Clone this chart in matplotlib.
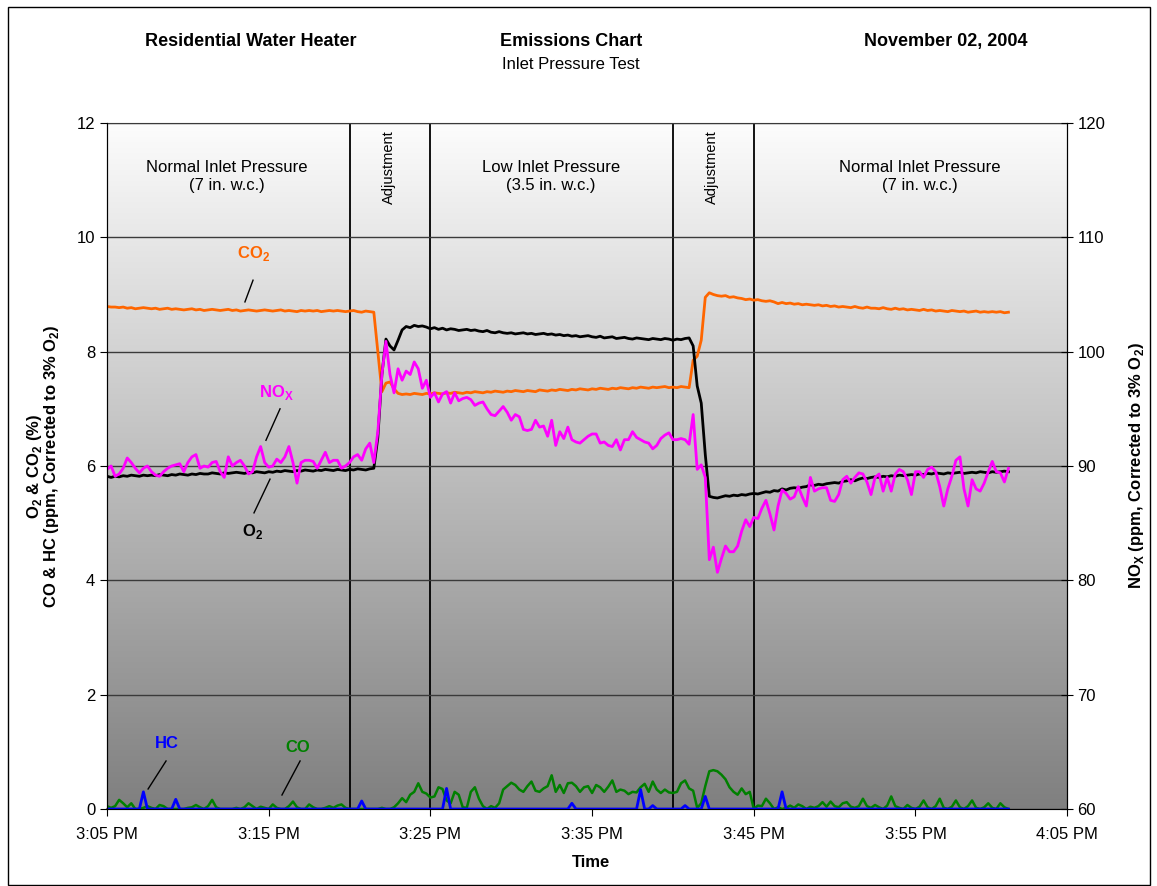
import numpy as np
import matplotlib
matplotlib.use('Agg')
import matplotlib.pyplot as plt
from matplotlib.patches import Rectangle

plt.rcParams['font.family'] = ['Liberation Sans', 'DejaVu Sans']
plt.rcParams['mathtext.fontset'] = 'custom'
plt.rcParams['mathtext.rm'] = 'Liberation Sans'
plt.rcParams['mathtext.bf'] = 'Liberation Sans:bold'

# muestras cada 15 s, minutos desde las 3:05 PM
paso_min = 0.25

o2 = [5.82, 5.80, 5.82, 5.81, 5.83, 5.82, 5.84, 5.83, 5.82, 5.84,
      5.83, 5.84, 5.83, 5.85, 5.84, 5.83, 5.85, 5.84, 5.86, 5.85,
      5.84, 5.86, 5.85, 5.87, 5.86, 5.86, 5.88, 5.87, 5.86, 5.88,
      5.87, 5.88, 5.89, 5.88, 5.87, 5.89, 5.88, 5.90, 5.89, 5.88,
      5.90, 5.89, 5.91, 5.90, 5.92, 5.91, 5.90, 5.92, 5.91, 5.93,
      5.92, 5.91, 5.93, 5.92, 5.94, 5.93, 5.92, 5.94, 5.93, 5.92,
      5.94, 5.93, 5.95, 5.94, 5.93, 5.95, 5.96, 6.50, 7.60, 8.22,
      8.10, 8.03, 8.20, 8.38, 8.44, 8.42, 8.46, 8.44, 8.45, 8.43,
      8.40, 8.42, 8.39, 8.41, 8.38, 8.40, 8.39, 8.37, 8.38, 8.39,
      8.37, 8.38, 8.36, 8.35, 8.37, 8.34, 8.33, 8.35, 8.33, 8.32,
      8.33, 8.31, 8.32, 8.33, 8.31, 8.32, 8.30, 8.31, 8.32, 8.30,
      8.31, 8.29, 8.30, 8.28, 8.29, 8.27, 8.28, 8.26, 8.27, 8.28,
      8.26, 8.25, 8.27, 8.24, 8.25, 8.26, 8.23, 8.24, 8.25, 8.23,
      8.22, 8.24, 8.23, 8.22, 8.21, 8.23, 8.22, 8.21, 8.23, 8.22,
      8.20, 8.22, 8.21, 8.23, 8.24, 8.10, 7.40, 7.10, 6.20, 5.47,
      5.45, 5.44, 5.46, 5.48, 5.47, 5.49, 5.48, 5.50, 5.49, 5.51,
      5.52, 5.51, 5.53, 5.55, 5.54, 5.57, 5.56, 5.60, 5.58, 5.61,
      5.62, 5.61, 5.63, 5.64, 5.67, 5.66, 5.68, 5.67, 5.69, 5.70,
      5.71, 5.70, 5.73, 5.74, 5.76, 5.74, 5.77, 5.79, 5.78, 5.80,
      5.81, 5.80, 5.82, 5.81, 5.83, 5.82, 5.84, 5.83, 5.84, 5.85,
      5.84, 5.86, 5.85, 5.87, 5.86, 5.88, 5.87, 5.86, 5.88, 5.87,
      5.88, 5.89, 5.87, 5.88, 5.89, 5.88, 5.90, 5.89, 5.88, 5.90,
      5.89, 5.90, 5.91, 5.90]

co2 = [8.79, 8.78, 8.78, 8.77, 8.78, 8.76, 8.77, 8.75, 8.76, 8.77,
       8.76, 8.75, 8.76, 8.74, 8.75, 8.76, 8.74, 8.75, 8.74, 8.73,
       8.74, 8.75, 8.73, 8.74, 8.72, 8.73, 8.74, 8.73, 8.72, 8.73,
       8.74, 8.72, 8.73, 8.71, 8.72, 8.73, 8.72, 8.71, 8.72, 8.73,
       8.72, 8.71, 8.72, 8.73, 8.71, 8.72, 8.71, 8.70, 8.72, 8.71,
       8.72, 8.71, 8.72, 8.70, 8.71, 8.72, 8.71, 8.72, 8.71, 8.70,
       8.71, 8.72, 8.70, 8.69, 8.71, 8.70, 8.69, 8.00, 7.30, 7.45,
       7.47, 7.35, 7.27, 7.25, 7.26, 7.25, 7.27, 7.26, 7.25, 7.27,
       7.26, 7.28, 7.27, 7.26, 7.28, 7.27, 7.29, 7.28, 7.27, 7.29,
       7.28, 7.30, 7.29, 7.28, 7.30, 7.29, 7.31, 7.30, 7.29, 7.31,
       7.30, 7.32, 7.31, 7.30, 7.32, 7.31, 7.30, 7.33, 7.32, 7.31,
       7.33, 7.32, 7.34, 7.33, 7.32, 7.34, 7.33, 7.35, 7.34, 7.33,
       7.35, 7.34, 7.36, 7.35, 7.34, 7.36, 7.35, 7.37, 7.36, 7.35,
       7.37, 7.36, 7.38, 7.37, 7.36, 7.38, 7.37, 7.38, 7.39, 7.37,
       7.38, 7.37, 7.39, 7.38, 7.37, 7.85, 7.92, 8.20, 8.95, 9.03,
       9.00, 8.98, 8.97, 8.98, 8.95, 8.96, 8.94, 8.93, 8.91, 8.92,
       8.90, 8.91, 8.89, 8.88, 8.89, 8.87, 8.84, 8.86, 8.84, 8.85,
       8.83, 8.84, 8.82, 8.83, 8.82, 8.81, 8.82, 8.80, 8.81, 8.79,
       8.80, 8.78, 8.79, 8.78, 8.77, 8.79, 8.77, 8.76, 8.78, 8.76,
       8.76, 8.75, 8.77, 8.75, 8.74, 8.76, 8.74, 8.75, 8.73, 8.74,
       8.73, 8.72, 8.74, 8.72, 8.73, 8.71, 8.72, 8.71, 8.70, 8.72,
       8.71, 8.70, 8.71, 8.69, 8.70, 8.71, 8.69, 8.70, 8.69, 8.70,
       8.69, 8.70, 8.68, 8.69]

nox = [89.7, 90.0, 89.1, 89.3, 89.8, 90.7, 90.3, 89.8, 89.4, 89.8,
       90.0, 89.5, 89.2, 89.1, 89.5, 89.8, 90.0, 90.1, 90.2, 89.5,
       90.3, 90.8, 91.0, 89.8, 90.0, 89.9, 90.3, 90.4, 89.5, 89.0,
       90.8, 90.0, 90.3, 90.5, 90.0, 89.3, 89.5, 90.8, 91.7, 90.3,
       89.9, 90.0, 90.6, 90.3, 90.8, 91.7, 90.3, 88.5, 90.3, 90.5,
       90.5, 90.4, 89.8, 90.5, 91.2, 90.3, 90.5, 90.5, 89.8, 90.0,
       90.3, 90.8, 91.0, 90.5, 91.5, 92.0, 90.3, 93.0, 98.0, 100.9,
       98.0, 96.4, 98.5, 97.5, 98.3, 98.0, 99.1, 98.5, 96.8, 97.5,
       96.0, 96.4, 95.6, 96.3, 96.5, 95.5, 96.4, 95.7, 95.9, 96.0,
       95.8, 95.3, 95.5, 95.6, 95.0, 94.5, 94.4, 94.8, 95.2, 94.7,
       94.0, 94.5, 94.3, 93.2, 93.1, 93.2, 94.0, 93.4, 93.5, 92.6,
       94.0, 91.8, 93.0, 92.4, 93.4, 92.3, 92.1, 92.0, 92.3, 92.6,
       92.8, 92.8, 92.0, 92.1, 91.8, 91.7, 92.3, 91.4, 92.3, 92.3,
       93.0, 92.5, 92.3, 92.1, 92.0, 91.5, 91.8, 92.4, 92.7, 92.9,
       92.3, 92.3, 92.4, 92.3, 91.9, 94.5, 89.7, 90.1, 89.0, 81.8,
       82.9, 80.7, 81.9, 83.0, 82.5, 82.5, 83.0, 84.3, 85.3, 84.7,
       85.5, 85.4, 86.3, 87.0, 85.8, 84.4, 86.5, 87.9, 87.6, 87.1,
       87.3, 88.2, 87.3, 86.5, 89.0, 87.8, 88.0, 88.1, 88.1, 87.0,
       86.9, 87.5, 88.8, 89.1, 88.5, 89.0, 89.4, 89.3, 88.6, 87.5,
       89.0, 89.3, 87.8, 89.0, 87.8, 89.3, 89.7, 89.5, 88.8, 87.5,
       89.5, 89.5, 89.0, 89.7, 89.9, 89.5, 88.2, 86.5, 88.0, 89.1,
       90.5, 90.8, 88.0, 86.5, 88.8, 88.0, 87.8, 88.5, 89.5, 90.4,
       89.5, 89.4, 88.6, 89.8]

co = [0.05, 0.02, 0.05, 0.16, 0.10, 0.03, 0.10, 0.00, 0.00, 0.02,
      0.05, 0.02, 0.00, 0.07, 0.05, 0.00, 0.00, 0.00, 0.00, 0.00,
      0.02, 0.03, 0.07, 0.03, 0.00, 0.05, 0.16, 0.03, 0.00, 0.00,
      0.00, 0.00, 0.02, 0.00, 0.03, 0.10, 0.05, 0.00, 0.04, 0.02,
      0.00, 0.08, 0.02, 0.00, 0.00, 0.05, 0.13, 0.03, 0.00, 0.00,
      0.08, 0.03, 0.00, 0.00, 0.02, 0.05, 0.02, 0.06, 0.08, 0.02,
      0.00, 0.00, 0.00, 0.00, 0.00, 0.00, 0.00, 0.00, 0.02, 0.00,
      0.00, 0.03, 0.10, 0.19, 0.12, 0.25, 0.30, 0.45, 0.30, 0.27,
      0.20, 0.22, 0.38, 0.35, 0.15, 0.10, 0.30, 0.25, 0.03, 0.02,
      0.30, 0.38, 0.18, 0.05, 0.00, 0.05, 0.02, 0.10, 0.34, 0.40,
      0.46, 0.42, 0.34, 0.30, 0.40, 0.48, 0.32, 0.30, 0.36, 0.40,
      0.59, 0.30, 0.42, 0.28, 0.45, 0.46, 0.40, 0.30, 0.38, 0.40,
      0.28, 0.42, 0.38, 0.30, 0.39, 0.50, 0.30, 0.34, 0.32, 0.26,
      0.30, 0.29, 0.38, 0.44, 0.30, 0.48, 0.34, 0.28, 0.34, 0.29,
      0.28, 0.30, 0.45, 0.50, 0.36, 0.32, 0.02, 0.10, 0.40, 0.66,
      0.68, 0.66, 0.60, 0.52, 0.38, 0.30, 0.25, 0.36, 0.26, 0.30,
      0.00, 0.06, 0.05, 0.18, 0.10, 0.00, 0.03, 0.00, 0.02, 0.06,
      0.02, 0.08, 0.05, 0.00, 0.04, 0.02, 0.05, 0.12, 0.04, 0.13,
      0.05, 0.03, 0.10, 0.12, 0.04, 0.02, 0.05, 0.18, 0.05, 0.02,
      0.07, 0.03, 0.00, 0.06, 0.22, 0.05, 0.02, 0.00, 0.07, 0.02,
      0.00, 0.04, 0.15, 0.03, 0.00, 0.05, 0.18, 0.02, 0.00, 0.04,
      0.15, 0.03, 0.00, 0.05, 0.15, 0.02, 0.00, 0.03, 0.10, 0.02,
      0.00, 0.10, 0.03, 0.00]

hc = [0, 0, 0, 0, 0, 0, 0, 0, 0, 0.30,
      0, 0, 0, 0, 0, 0, 0, 0.17, 0, 0,
      0, 0, 0, 0, 0, 0, 0, 0, 0, 0,
      0, 0, 0, 0, 0, 0, 0, 0, 0, 0,
      0, 0, 0, 0, 0, 0, 0, 0, 0, 0,
      0, 0, 0, 0, 0, 0, 0, 0, 0, 0,
      0, 0, 0, 0.14, 0, 0, 0, 0, 0, 0,
      0, 0, 0, 0, 0, 0, 0, 0, 0, 0,
      0, 0, 0, 0, 0.36, 0, 0, 0, 0, 0,
      0, 0, 0, 0, 0, 0, 0, 0, 0, 0,
      0, 0, 0, 0, 0, 0, 0, 0, 0, 0,
      0, 0, 0, 0, 0, 0.10, 0, 0, 0, 0,
      0, 0, 0, 0, 0, 0, 0, 0, 0, 0,
      0, 0, 0.34, 0, 0, 0.06, 0, 0, 0, 0,
      0, 0, 0, 0.06, 0, 0, 0, 0, 0.22, 0,
      0, 0, 0, 0, 0, 0, 0, 0, 0, 0,
      0, 0, 0, 0, 0, 0, 0, 0.30, 0, 0,
      0, 0, 0, 0, 0, 0, 0, 0, 0, 0,
      0, 0, 0, 0, 0, 0, 0, 0, 0, 0,
      0, 0, 0, 0, 0, 0, 0, 0, 0, 0,
      0, 0, 0, 0, 0, 0, 0, 0, 0, 0,
      0, 0, 0, 0, 0, 0, 0, 0, 0, 0,
      0, 0, 0, 0]

tiempo = np.arange(len(o2)) * paso_min

# divisiones entre etapas (minutos desde 3:05)
cortes = [15, 20, 35, 40]
etapas = [(7.42, 'Normal Inlet Pressure\n(7 in. w.c.)'),
          (27.46, 'Low Inlet Pressure\n(3.5 in. w.c.)'),
          (50.28, 'Normal Inlet Pressure\n(7 in. w.c.)')]
ajustes = [17.44, 37.41]

x_ticks = [0, 10, 20, 30, 40, 50, 59.37]
x_labels = ['3:05 PM', '3:15 PM', '3:25 PM', '3:35 PM', '3:45 PM', '3:55 PM', '4:05 PM']

fig = plt.figure(figsize=(11.57, 8.86), dpi=100)
ax = fig.add_axes([0.0925, 0.0869, 0.8297, 0.7743])

# fondo degradado blanco -> gris
grad = np.linspace(0.99, 0.5, 256)
img = np.dstack([grad, grad, grad]).reshape(256, 1, 3)
ax.imshow(img, extent=[0, 1, 0, 1], transform=ax.transAxes, aspect='auto', zorder=0)

ax.set_xlim(0, 59.37)
ax.set_ylim(0, 12)
ax.set_yticks(range(0, 13, 2))
ax.yaxis.grid(True, color='#3a3a3a', lw=1)
ax.set_axisbelow(False)
for c in cortes:
    ax.axvline(c, color='black', lw=1.3, zorder=2)

ax.plot(tiempo, co, color='#008000', lw=1.8, zorder=3)
ax.plot(tiempo, hc, color='#0000ff', lw=2.0, zorder=4)
ax.plot(tiempo, co2, color='#ff6600', lw=2.0, zorder=4)
ax.plot(tiempo, o2, color='black', lw=2.0, zorder=4)

ax.set_xticks(x_ticks)
ax.set_xticklabels(x_labels)
ax.tick_params(labelsize=12, length=5, direction='out')
ax.tick_params(axis='x', pad=8)
ax.spines['top'].set_color('#3a3a3a')
ax.spines['bottom'].set_color('#808080')
ax.spines['bottom'].set_linewidth(1.5)

ax2 = ax.twinx()
ax2.set_ylim(60, 120)
ax2.set_yticks(range(60, 121, 10))
ax2.plot(tiempo, nox, color='#ff00ff', lw=2.0)
ax2.tick_params(labelsize=12, length=8, direction='inout')
ax2.spines['top'].set_visible(False)

for xc, txt in etapas:
    ax.text(xc, 11.07, txt, ha='center', va='center', fontsize=12, linespacing=1.25, zorder=6)
for xc in ajustes:
    ax.text(xc, 11.23, 'Adjustment', ha='center', va='center', rotation=90, fontsize=10.5, zorder=6)

# etiquetas de las series con su linea guia
def etiqueta(txt, pos, linea, color):
    ax.text(pos[0], pos[1], txt, color=color, ha='center', va='center',
            fontsize=12, fontweight='bold', zorder=7)
    ax.plot([linea[0], linea[2]], [linea[1], linea[3]], color='black', lw=1, zorder=7)

etiqueta(r'CO$_\mathbf{2}$', (9.09, 9.71), (9.03, 9.25, 8.53, 8.87), '#ff6600')
etiqueta(r'NO$_\mathbf{X}$', (10.45, 7.29), (10.70, 7.0, 9.83, 6.45), '#ff00ff')
etiqueta(r'O$_\mathbf{2}$', (9.03, 4.86), (10.08, 5.77, 9.09, 5.18), 'black')
etiqueta('HC', (3.71, 1.14), (3.65, 0.84, 2.54, 0.35), '#0000ff')
etiqueta('CO', (11.81, 1.07), (11.94, 0.84, 10.82, 0.245), '#008000')

fig.text(0.2169, 0.9526, 'Residential Water Heater', ha='center', va='center', fontsize=13, fontweight='bold')
fig.text(0.4935, 0.9526, 'Emissions Chart', ha='center', va='center', fontsize=13, fontweight='bold')
fig.text(0.4935, 0.9277, 'Inlet Pressure Test', ha='center', va='center', fontsize=12)
fig.text(0.8176, 0.9526, 'November 02, 2004', ha='center', va='center', fontsize=13, fontweight='bold')

fig.text(0.0295, 0.474, r'O$_\mathbf{2}$ & CO$_\mathbf{2}$ (%)', rotation=90, ha='center', va='center',
         fontsize=12, fontweight='bold')
fig.text(0.0448, 0.474, r'CO & HC (ppm, Corrected to 3% O$_\mathbf{2}$)', rotation=90, ha='center',
         va='center', fontsize=12, fontweight='bold')
fig.text(0.9827, 0.474, r'NO$_\mathbf{X}$ (ppm, Corrected to 3% O$_\mathbf{2}$)', rotation=90, ha='center',
         va='center', fontsize=12, fontweight='bold')
fig.text(0.5108, 0.026, 'Time', ha='center', va='center', fontsize=12, fontweight='bold')

# marco alrededor de todo el grafico
fig.patches.append(Rectangle((8 / 1157, 1 / 886), 1142 / 1157, 878 / 886, transform=fig.transFigure,
                             fill=False, ec='black', lw=1))

fig.savefig('out.png', dpi=100)
